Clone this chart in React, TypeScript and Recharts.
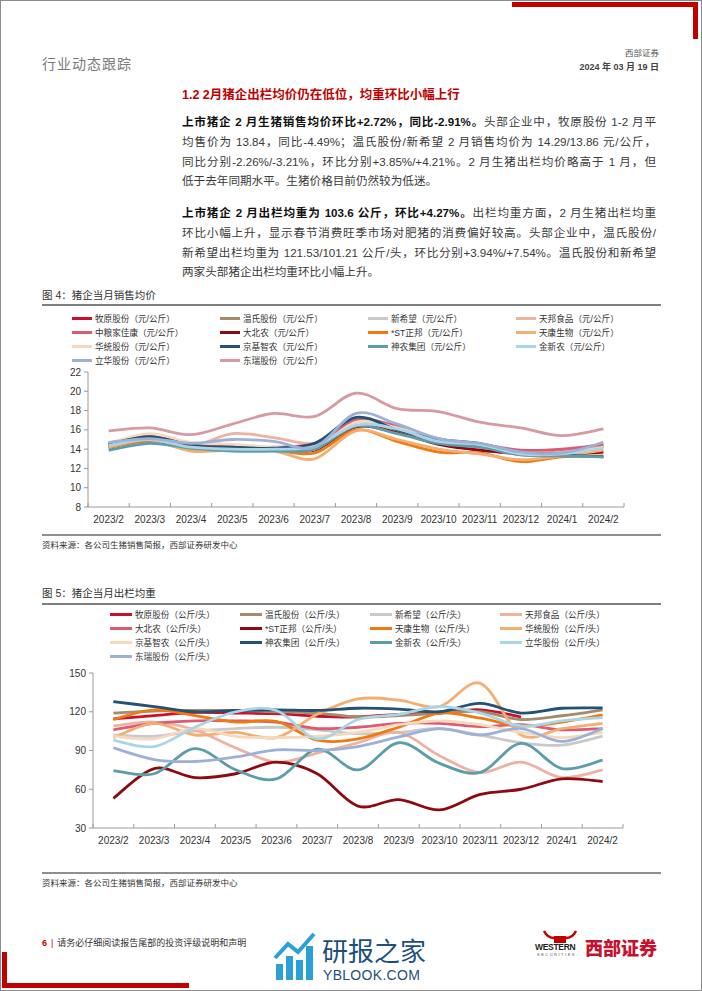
import React from 'react';
import { LineChart, Line, XAxis, YAxis } from 'recharts';

const months = ['2023/2', '2023/3', '2023/4', '2023/5', '2023/6', '2023/7', '2023/8', '2023/9', '2023/10', '2023/11', '2023/12', '2024/1', '2024/2'];

// 图4 猪企当月销售均价（元/公斤）
const priceMuyuan = [14.3, 15.1, 14.3, 14.2, 14.0, 14.3, 16.9, 15.9, 14.6, 13.9, 13.5, null, null];
const priceWens = [14.6, 15.1, 14.6, 14.2, 14.0, 14.4, 17.0, 16.2, 15.1, 14.3, 13.5, 13.76, 14.29];
const priceNewHope = [14.3, 15.0, 14.4, 14.1, 13.9, 14.3, 16.8, 16.0, 14.8, 14.2, 13.4, 13.3, 13.86];
const priceTianbang = [14.5, 15.2, 14.3, 15.6, 15.2, 14.6, 16.4, 15.8, 14.7, 14.0, 13.6, 13.7, 14.5];
const priceCofco = [14.6, 15.3, 14.5, 14.3, 14.2, 14.6, 17.0, 16.4, 15.0, 14.5, 13.9, 14.0, 14.5];
const priceDabeinong = [14.2, 14.9, 14.1, 14.0, 14.0, 13.9, 16.3, 15.7, 14.5, 13.9, 13.6, 13.5, 13.7];
const priceZhengbang = [14.2, 14.8, 13.9, 13.9, 13.9, 13.6, 16.0, 14.8, 13.7, 13.6, 12.7, 13.2, 13.3];
const priceTiankang = [14.2, 15.0, 13.8, 13.9, 13.8, 13.0, 15.9, 15.0, 14.0, 13.5, 12.9, 13.3, 13.9];
const priceHuatong = [14.6, 15.6, 14.7, 14.5, 14.2, 14.0, 16.8, 16.2, 15.0, 14.4, 13.6, 13.5, 14.2];
const priceJingji = [14.5, 15.3, 14.4, 14.2, 14.1, 14.6, 17.3, 16.0, 15.0, 14.6, 13.6, 13.4, 13.2];
const priceShennong = [13.9, 14.6, 14.1, 13.8, 13.8, 14.0, 16.4, 15.6, 14.6, 14.2, 13.4, 13.3, 13.2];
const priceJinxinnong = [14.4, 15.0, 14.2, 14.0, 14.0, 14.3, 16.5, 16.1, 14.8, 14.5, 13.5, 13.5, 14.1];
const priceLihua = [14.7, 15.1, 14.6, 15.0, 14.8, 14.2, 17.7, 16.6, 15.1, 14.6, 13.7, 13.6, 14.7];
const priceDongrui = [15.9, 16.2, 15.5, 16.6, 17.7, 17.4, 19.8, 18.2, 17.9, 16.8, 16.2, 15.4, 16.1];

// 图5 猪企当月出栏均重（公斤/头）
const wtMuyuan = [114.5, 117, 119.5, 119, 118.5, 116.5, 116, 118, 119, 121.5, 116, null, null];
const wtWens = [119, 120.5, 121, 121, 120, 119, 116, 117, 119, 120, 114, 116.9, 121.5];
const wtNewHope = [102, 101, 105, 107, 108, 106, 103, 104, 107, 102, 96, 94.1, 101.2];
const wtTianbang = [109, 112, 106, 92, 81, 88, 96, 104, 86, 73, 81, 69, 75];
const wtDabeinong = [106, 111, 113, 113, 112, 107, 108, 111, 111, 108.5, 110, 106, 107];
const wtZhengbang = [53, 76, 69, 72, 81, 72, 47, 52, 44, 56, 60, 68, 66];
const wtTiankang = [114, 121.5, 117, 112, 112.5, 98, 99, 108, 119, 115, 109, 112, 117.5];
const wtHuatong = [100, 111, 102, 104, 100, 118, 130, 129, 124, 142, 102, 107, 111];
const wtJingji = [101, 99, 107, 101, 100, 101, 104, 110, 113, 110, 104, 100, 104];
const wtShennong = [127.8, 124, 120, 121, 121.5, 121, 122.7, 122, 120, 126.5, 119, 122.7, 123];
const wtJinxinnong = [74.5, 72, 91.5, 75, 68, 91, 75, 96, 80, 73, 95.5, 76, 82.5];
const wtLihua = [98, 93, 108, 120, 121, 99, 114, 118, 124, 119, 109, 113, 115.5];
const wtDongrui = [92, 83, 81.5, 85, 90.5, 90, 93, 100.5, 107, 102, 107, 97, 107];

const priceTicks = [8, 10, 12, 14, 16, 18, 20, 22];
const weightTicks = [30, 60, 90, 120, 150];

const C = {
  red: '#C8102E', tan: '#A68A6D', gray: '#C9C9C9', salmon: '#EEB2A2', pinkRed: '#DC5A72',
  darkRed: '#8E0A12', orange: '#F07A10', lightOrange: '#F3AE72', peach: '#F6D8BD',
  navy: '#235272', teal: '#5D9DAA', lightBlue: '#A9D5E6', lavender: '#9DB0D8', dustyPink: '#D79AA3',
};

const priceSeries = [
  { name: '牧原股份（元/公斤）', color: C.red, values: priceMuyuan },
  { name: '温氏股份（元/公斤）', color: C.tan, values: priceWens },
  { name: '新希望（元/公斤）', color: C.gray, values: priceNewHope },
  { name: '天邦食品（元/公斤）', color: C.salmon, values: priceTianbang },
  { name: '中粮家佳康（元/公斤）', color: C.pinkRed, values: priceCofco },
  { name: '大北农（元/公斤）', color: C.darkRed, values: priceDabeinong },
  { name: '*ST正邦（元/公斤）', color: C.orange, values: priceZhengbang },
  { name: '天康生物（元/公斤）', color: C.lightOrange, values: priceTiankang },
  { name: '华统股份（元/公斤）', color: C.peach, values: priceHuatong },
  { name: '京基智农（元/公斤）', color: C.navy, values: priceJingji },
  { name: '神农集团（元/公斤）', color: C.teal, values: priceShennong },
  { name: '金新农（元/公斤）', color: C.lightBlue, values: priceJinxinnong },
  { name: '立华股份（元/公斤）', color: C.lavender, values: priceLihua },
  { name: '东瑞股份（元/公斤）', color: C.dustyPink, values: priceDongrui },
];

const weightSeries = [
  { name: '牧原股份（公斤/头）', color: C.red, values: wtMuyuan },
  { name: '温氏股份（公斤/头）', color: C.tan, values: wtWens },
  { name: '新希望（公斤/头）', color: C.gray, values: wtNewHope },
  { name: '天邦食品（公斤/头）', color: C.salmon, values: wtTianbang },
  { name: '大北农（公斤/头）', color: C.pinkRed, values: wtDabeinong },
  { name: '*ST正邦（公斤/头）', color: C.darkRed, values: wtZhengbang },
  { name: '天康生物（公斤/头）', color: C.orange, values: wtTiankang },
  { name: '华统股份（公斤/头）', color: C.lightOrange, values: wtHuatong },
  { name: '京基智农（公斤/头）', color: C.peach, values: wtJingji },
  { name: '神农集团（公斤/头）', color: C.navy, values: wtShennong },
  { name: '金新农（公斤/头）', color: C.teal, values: wtJinxinnong },
  { name: '立华股份（公斤/头）', color: C.lightBlue, values: wtLihua },
  { name: '东瑞股份（公斤/头）', color: C.lavender, values: wtDongrui },
];

const FONT = '"Liberation Sans", Arial, "Noto Sans CJK SC", sans-serif';
const AXIS = '#9a9a9a';

// Excel-like smoothed line (cardinal / catmull-rom style)
const smoothCurve = (context: any) => {
  let pts: number[][] = [];
  return {
    areaStart() {},
    areaEnd() {},
    lineStart() { pts = []; },
    point(x: number, y: number) { pts.push([+x, +y]); },
    lineEnd() {
      const n = pts.length;
      if (!n) return;
      context.moveTo(pts[0][0], pts[0][1]);
      for (let i = 0; i < n - 1; i++) {
        const p0 = pts[Math.max(i - 1, 0)];
        const p1 = pts[i];
        const p2 = pts[i + 1];
        const p3 = pts[Math.min(i + 2, n - 1)];
        context.bezierCurveTo(
          p1[0] + (p2[0] - p0[0]) / 6, p1[1] + (p2[1] - p0[1]) / 6,
          p2[0] - (p3[0] - p1[0]) / 6, p2[1] - (p3[1] - p1[1]) / 6,
          p2[0], p2[1],
        );
      }
    },
  };
};

const toRows = (series: { values: (number | null)[] }[]) =>
  months.map((m, i) => {
    const row: any = { i, month: m };
    series.forEach((s, k) => { row['s' + k] = s.values[i]; });
    return row;
  });

const makeXTick = (bw: number) => (props: any) => {
  const { x, y, payload } = props;
  const last = payload.value === months.length - 1;
  return (
    <g>
      <line x1={x - bw / 2} x2={x - bw / 2} y1={y} y2={y - 4} stroke={AXIS} />
      {last && <line x1={x + bw / 2} x2={x + bw / 2} y1={y} y2={y - 4} stroke={AXIS} />}
      <text x={x} y={y + 12} textAnchor="middle" dominantBaseline="central" fontSize={10} fill="#333" fontFamily={FONT}>
        {months[payload.value]}
      </text>
    </g>
  );
};

type S = { name: string; color: string; values: (number | null)[] };

function SeriesChart(props: { series: S[]; top: number; height: number; yWidth: number; right: number; domain: number[]; ticks: number[]; bw: number }) {
  const { series, top, height, yWidth, right, domain, ticks, bw } = props;
  const rows = toRows(series);
  return (
    <div style={{ position: 'absolute', left: 0, top }}>
      <LineChart width={702} height={height} data={rows} margin={{ top: 10, right, bottom: 0, left: 0 }}>
        <XAxis
          type="number"
          dataKey="i"
          domain={[-0.5, months.length - 0.5]}
          ticks={months.map((_, i) => i)}
          interval={0}
          height={25}
          stroke={AXIS}
          tickLine={false}
          tickSize={0}
          tickMargin={0}
          tick={makeXTick(bw)}
        />
        <YAxis
          type="number"
          domain={domain}
          ticks={ticks}
          interval={0}
          width={yWidth}
          stroke={AXIS}
          tickSize={4}
          tickMargin={3}
          tick={{ fontSize: 10, fill: '#333', fontFamily: FONT }}
        />
        {series.map((s, k) => (
          <Line
            key={s.name}
            dataKey={'s' + k}
            type={smoothCurve as any}
            stroke={s.color}
            strokeWidth={2.8}
            dot={false}
            activeDot={false}
            isAnimationActive={false}
          />
        ))}
      </LineChart>
    </div>
  );
}

function LegendGrid(props: { series: S[]; cols: number[]; top: number; lineW: number }) {
  const { series, cols, top, lineW } = props;
  return (
    <>
      {series.map((s, k) => {
        const r = Math.floor(k / 4);
        const c = k % 4;
        const cy = top + r * 14;
        return (
          <div key={s.name} style={{ position: 'absolute', left: cols[c], top: cy - 7, height: 14, display: 'flex', alignItems: 'center' }}>
            <div style={{ width: lineW, height: 3, background: s.color }} />
            <span style={{ marginLeft: 3, fontSize: 8.6, color: '#333', fontFamily: FONT, whiteSpace: 'nowrap' }}>{s.name}</span>
          </div>
        );
      })}
    </>
  );
}

const abs = (left: number, cy: number, lh: number, extra: any = {}) => ({
  position: 'absolute' as const, left, top: cy - lh / 2, lineHeight: lh + 'px', fontFamily: FONT, whiteSpace: 'nowrap' as const, ...extra,
});

const p1Lines = [
  ['上市猪企 2 月生猪销售均价环比+2.72%，同比-2.91%。', '头部企业中，牧原股份 1-2 月平'],
  ['', '均售价为 13.84，同比-4.49%；温氏股份/新希望 2 月销售均价为 14.29/13.86 元/公斤，'],
  ['', '同比分别-2.26%/-3.21%，环比分别+3.85%/+4.21%。2 月生猪出栏均价略高于 1 月，但'],
  ['', '低于去年同期水平。生猪价格目前仍然较为低迷。'],
];
const p2Lines = [
  ['上市猪企 2 月出栏均重为 103.6 公斤，环比+4.27%。', '出栏均重方面，2 月生猪出栏均重'],
  ['', '环比小幅上升，显示春节消费旺季市场对肥猪的消费偏好较高。头部企业中，温氏股份/'],
  ['', '新希望出栏均重为 121.53/101.21 公斤/头，环比分别+3.94%/+7.54%。温氏股份和新希望'],
  ['', '两家头部猪企出栏均重环比小幅上升。'],
];

function Para(props: { lines: string[][]; top: number }) {
  return (
    <>
      {props.lines.map((ln, k) => {
        const lastLine = k === props.lines.length - 1;
        return (
          <div
            key={k}
            style={{
              position: 'absolute', left: 182, top: props.top + k * 19.8 - 10, width: 474, height: 20,
              lineHeight: '20px', fontSize: 11.6, fontFamily: FONT, color: '#3a3a3a',
              textAlign: 'justify', textAlignLast: lastLine ? 'left' : 'justify', whiteSpace: 'nowrap',
            }}
          >
            {ln[0] && <b style={{ color: '#111' }}>{ln[0]}</b>}
            {ln[1]}
          </div>
        );
      })}
    </>
  );
}

export default function App() {
  return (
    <div style={{ position: 'absolute', left: 0, top: 0, width: 702, height: 991, background: '#fff', overflow: 'hidden' }}>
      <div style={{ position: 'absolute', left: 0, top: 0, width: 702, height: 991, border: '1px solid #8a8a8a', boxSizing: 'border-box' }} />
      {/* red corner marks */}
      <div style={{ position: 'absolute', left: 512, top: 2, width: 186, height: 5, background: '#C00000' }} />
      <div style={{ position: 'absolute', left: 693, top: 2, width: 5, height: 37, background: '#C00000' }} />
      <div style={{ position: 'absolute', left: 2, top: 952, width: 5, height: 36, background: '#C00000' }} />
      <div style={{ position: 'absolute', left: 2, top: 983, width: 187, height: 5, background: '#C00000' }} />

      {/* header */}
      <div style={abs(42, 64, 18, { fontSize: 14, color: '#7a7a7a', letterSpacing: 1 })}>行业动态跟踪</div>
      <div style={abs(560, 53, 12, { width: 99, textAlign: 'right', fontSize: 8.5, color: '#555' })}>西部证券</div>
      <div style={abs(540, 67, 12, { width: 119, textAlign: 'right', fontSize: 9, color: '#444', fontWeight: 700 })}>2024 年 03 月 19 日</div>

      {/* section title & text */}
      <div style={abs(182, 95, 18, { fontSize: 12.5, color: '#C00000', fontWeight: 700 })}>1.2 2月猪企出栏均价仍在低位，均重环比小幅上行</div>
      <Para lines={p1Lines} top={122} />
      <Para lines={p2Lines} top={213} />

      {/* figure 4 */}
      <div style={abs(42, 295, 14, { fontSize: 10.5, color: '#333' })}>图 4：猪企当月销售均价</div>
      <div style={{ position: 'absolute', left: 42, top: 304, width: 619, height: 2, background: '#7f7f7f' }} />
      <LegendGrid series={priceSeries} cols={[72, 220, 368, 516]} top={318} lineW={20} />
      <SeriesChart series={priceSeries} top={362} height={170} yWidth={88} right={78} domain={[8, 22]} ticks={priceTicks} bw={536 / 13} />
      <div style={{ position: 'absolute', left: 42, top: 534, width: 619, height: 1.5, background: '#8f8f8f' }} />
      <div style={abs(42, 545, 12, { fontSize: 8.5, color: '#333' })}>资料来源：各公司生猪销售简报，西部证券研发中心</div>

      {/* figure 5 */}
      <div style={abs(42, 593, 14, { fontSize: 10.5, color: '#333' })}>图 5：猪企当月出栏均重</div>
      <div style={{ position: 'absolute', left: 42, top: 603, width: 619, height: 2, background: '#7f7f7f' }} />
      <LegendGrid series={weightSeries} cols={[110, 240, 370, 500]} top={614} lineW={22} />
      <SeriesChart series={weightSeries} top={663} height={190} yWidth={93} right={79} domain={[30, 150]} ticks={weightTicks} bw={530 / 13} />
      <div style={{ position: 'absolute', left: 42, top: 872, width: 619, height: 1.5, background: '#8f8f8f' }} />
      <div style={abs(42, 883, 12, { fontSize: 8.5, color: '#333' })}>资料来源：各公司生猪销售简报，西部证券研发中心</div>

      {/* footer */}
      <div style={abs(42, 943, 14, { fontSize: 9, color: '#333' })}>
        <b style={{ color: '#C00000' }}>6</b>
        <span style={{ margin: '0 4px', color: '#C00000' }}>|</span>
        请务必仔细阅读报告尾部的投资评级说明和声明
      </div>

      {/* watermark */}
      <svg style={{ position: 'absolute', left: 272, top: 930 }} width={48} height={54}>
        <rect x={4} y={34} width={7} height={16} fill="#2a9fd8" />
        <rect x={14} y={26} width={7} height={24} fill="#2a9fd8" />
        <rect x={24} y={30} width={7} height={20} fill="#2a9fd8" />
        <rect x={34} y={16} width={7} height={34} fill="#2a9fd8" />
        <polyline points="3,28 16,14 26,22 42,4" fill="none" stroke="#2a9fd8" strokeWidth={4} />
      </svg>
      <div style={abs(322, 950, 30, { fontSize: 26, color: '#1d4f7c', fontFamily: '"Noto Sans CJK SC", sans-serif' })}>研报之家</div>
      <div style={abs(323, 975, 16, { fontSize: 14, color: '#1d4f7c', letterSpacing: 0.3 })}>YBLOOK.COM</div>

      {/* Western logo */}
      <svg style={{ position: 'absolute', left: 540, top: 929 }} width={40} height={14}>
        <path d="M4 2 Q8 10 16 9 L24 9 Q32 10 36 2" fill="none" stroke="#C00000" strokeWidth={2.5} />
        <rect x={14} y={7} width={12} height={7} fill="#C00000" />
      </svg>
      <div style={abs(535, 947, 10, { fontSize: 8.5, color: '#222', fontWeight: 700, letterSpacing: -0.3 })}>WESTERN</div>
      <div style={abs(537, 955, 6, { fontSize: 4, color: '#555', letterSpacing: 1.5 })}>SECURITIES</div>
      <div style={abs(585, 947, 22, { fontSize: 18, color: '#C8102E', fontWeight: 900, fontFamily: '"Noto Sans CJK SC", sans-serif' })}>西部证券</div>
    </div>
  );
}
